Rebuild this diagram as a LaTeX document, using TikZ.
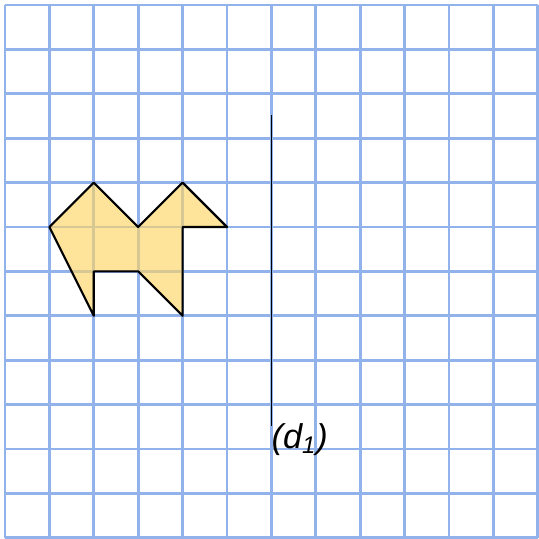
\documentclass[tikz,border=0pt]{standalone}
\usepackage{fontspec}
\newfontfamily\lblfont{Liberation Sans}
\definecolor{gridblue}{RGB}{145,178,235}
\definecolor{shapefill}{RGB}{254,212,100}
\begin{document}
\begin{tikzpicture}[x=1cm,y=1cm,
  gridline/.style={draw=gridblue,line width=1.7pt},
  shapeline/.style={draw=black,line width=1.4pt,line join=round,fill=shapefill,fill opacity=0.65},
  axisline/.style={draw=black,line width=1.0pt}]
\useasboundingbox (-0.1126,0.1126) rectangle (12.005,-12.027);
\draw[gridline] (0,0) grid (12,-12);
\draw[shapeline] (1,-5) -- (2,-4) -- (3,-5) -- (4,-4) -- (5,-5) -- (4,-5) -- (4,-7) -- (3,-6) -- (2,-6) -- (2,-7) -- cycle;
\coordinate (dtop) at (6,-2.48);
\coordinate (dbot) at (6,-9.48);
\draw[axisline] (dtop) -- (dbot);
\node[anchor=west,inner sep=0pt,font=\lblfont\itshape\fontsize{22}{26}\selectfont] (dlabel) at (6,-9.79) {(d\textsubscript{1})};
\end{tikzpicture}
\end{document}
